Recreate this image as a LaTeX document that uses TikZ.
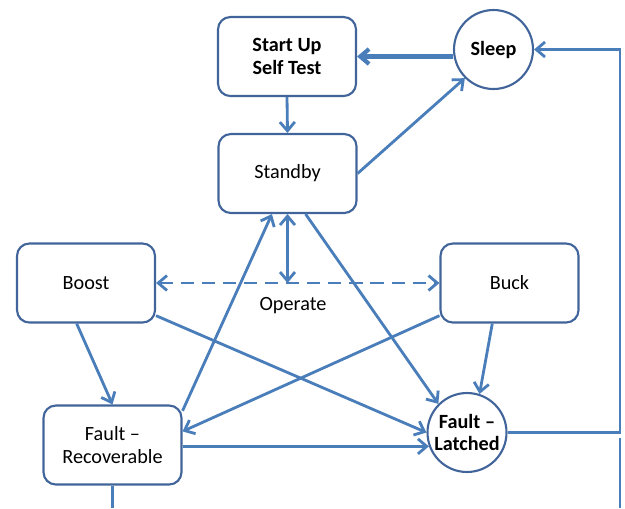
\documentclass[tikz,border=0pt]{standalone}
\usepackage{fontspec}
\setmainfont{Carlito}
\usetikzlibrary{arrows.meta}
\definecolor{cln}{HTML}{4A7EBB}
\definecolor{clb}{HTML}{41659A}
\tikzset{>={Straight Barb[length=5pt,width=8.5pt]}}
\tikzset{
    stbox/.style={draw=clb, line width=1.2pt, fill=white, rounded corners=7pt,
        minimum width=2.76cm, minimum height=1.58cm, align=center,
        font=\fontsize{11.5}{13}\selectfont},
    stcirc/.style={draw=clb, line width=1.2pt, fill=white, circle, inner sep=0pt,
        minimum size=1.58cm, align=center, font=\fontsize{11.5}{13}\selectfont},
    conn/.style={draw=cln, line width=1.6pt}
}

\begin{document}
\begin{tikzpicture}[x=.02cm, y=-.02cm]
    \useasboundingbox(0, 0)rectangle(625, 508);
    \node[stbox](start)at(287, 56.5){\textbf{Start Up}\\\textbf{Self Test}};
    \node[stbox](standby)at(287.5, 173.5){Standby};
    \node[stcirc](sleep)at(493.5, 49.5){\textbf{Sleep}};
    \node[stbox](boost)at(86, 283){Boost};
    \node[stbox](buck)at(509.5, 283){Buck};
    \node[stbox](frec)at(112.5, 445){Fault --\\Recoverable};
    \node[stcirc](flat)at(467, 432.5){\textbf{Fault --}\\\textbf{Latched}};
    \node[font=\fontsize{11.5}{13}\selectfont](operate)at(293, 306){Operate};
    \coordinate(op)at(standby.south |- boost.east);
    \coordinate(rail)at(620, 49.5);
    \coordinate(railbot)at(620, 508);
    \coordinate(railtop)at(620, 438);
    \coordinate(frdown)at(112.5, 508);
    \draw[conn, line width=2.4pt, ->](sleep.west |- start.east)--(start.east);
    \draw[conn, ->](start.south)--(standby.north);
    \draw[conn, ->](standby.east)--(sleep.225);
    \draw[conn, <->](standby.south)--(op);
    \draw[conn, dashed, dash pattern=on 7.5pt off 4.5pt, <->](boost.east)--(buck.west);
    \draw[conn, ->](boost.257)--(frec.north);
    \draw[conn, ->](boost.335)--(flat.west);
    \draw[conn, ->](standby.294)--(flat.135);
    \draw[conn, ->](buck.247)--(flat.72);
    \draw[conn, ->](buck.205)--(frec.11);
    \draw[conn, ->](frec.26)--(standby.249);
    \draw[conn, ->](frec.east |- flat.200)--(flat.200);
    \draw[conn](frec.south)--(frdown);
    \draw[conn, ->](flat.east)-|(rail)|-(sleep.east);
    \draw[conn](railbot)--(railtop);
\end{tikzpicture}
\end{document}
